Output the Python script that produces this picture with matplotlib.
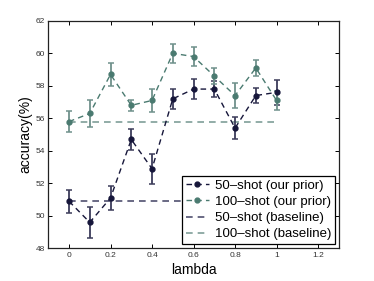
import numpy as np
import matplotlib
matplotlib.use('Agg')
import matplotlib.pyplot as plt

plt.rcParams['font.family'] = ['Liberation Sans', 'DejaVu Sans']

lam = [0, 0.1, 0.2, 0.3, 0.4, 0.5, 0.6, 0.7, 0.8, 0.9, 1.0]

acc_50 = [50.9, 49.6, 51.1, 54.7, 52.9, 57.2, 57.8, 57.8, 55.4, 57.4, 57.6]
err_50 = [0.72, 0.93, 0.73, 0.63, 0.92, 0.6, 0.6, 0.5, 0.7, 0.47, 0.75]

acc_100 = [55.8, 56.3, 58.7, 56.8, 57.1, 60.0, 59.8, 58.6, 57.4, 59.1, 57.1]
err_100 = [0.63, 0.83, 0.7, 0.35, 0.7, 0.6, 0.58, 0.5, 0.75, 0.5, 0.6]

base_50 = 50.9
base_100 = 55.8

c50 = '#16163a'
c50_err = '#3c3c5a'
c100 = '#4a7a70'
c100_err = '#6f918b'

fig = plt.figure(figsize=(3.74, 2.81), dpi=100)
ax = fig.add_axes([0.129, 0.116, 0.777, 0.81])

ax.errorbar(lam, acc_50, yerr=err_50, fmt='none', ecolor=c50_err, elinewidth=1.3,
            capsize=2.2, capthick=1.1, zorder=3)
ax.errorbar(lam, acc_100, yerr=err_100, fmt='none', ecolor=c100_err, elinewidth=1.3,
            capsize=2.2, capthick=1.1, zorder=3)
ax.plot(lam, acc_50, '--', color=c50, marker='o', ms=3.5, lw=1.0, dashes=(4, 3),
        label='50\u2013shot (our prior)', zorder=4)
ax.plot(lam, acc_100, '--', color=c100, marker='o', ms=3.5, lw=1.0, dashes=(4, 3),
        label='100\u2013shot (our prior)', zorder=4)
ax.plot([lam[0], lam[-1]], [base_50, base_50], '--', color='#505070', lw=1.2,
        dashes=(4, 3), label='50\u2013shot (baseline)', zorder=2)
ax.plot([lam[0], lam[-1]], [base_100, base_100], '--', color='#7f9e98', lw=1.2,
        dashes=(4, 3), label='100\u2013shot (baseline)', zorder=2)

ax.set_xlim(-0.1, 1.3)
ax.set_ylim(48, 62)
ax.set_xticks([0, 0.2, 0.4, 0.6, 0.8, 1.0, 1.2])
ax.set_xticklabels(['0', '0.2', '0.4', '0.6', '0.8', '1', '1.2'])
ax.set_yticks(np.arange(48, 63, 2))
ax.tick_params(direction='in', top=True, right=True, labelsize=6, length=3, width=0.7,
               pad=2.5, labelcolor='#333333')
for s in ax.spines.values():
    s.set_linewidth(0.9)
    s.set_color('#222222')

ax.set_xlabel('lambda', fontsize=10, labelpad=3)
ax.set_ylabel('accuracy(%)', fontsize=10, labelpad=2)

leg = ax.legend(loc='lower right', fontsize=9.5, frameon=True, fancybox=False,
                edgecolor='black', handlelength=1.8, handletextpad=0.4,
                borderpad=0.3, labelspacing=0.3, borderaxespad=0.3,
                framealpha=1)
leg.get_frame().set_linewidth(0.9)

fig.savefig('out.png', dpi=100)
